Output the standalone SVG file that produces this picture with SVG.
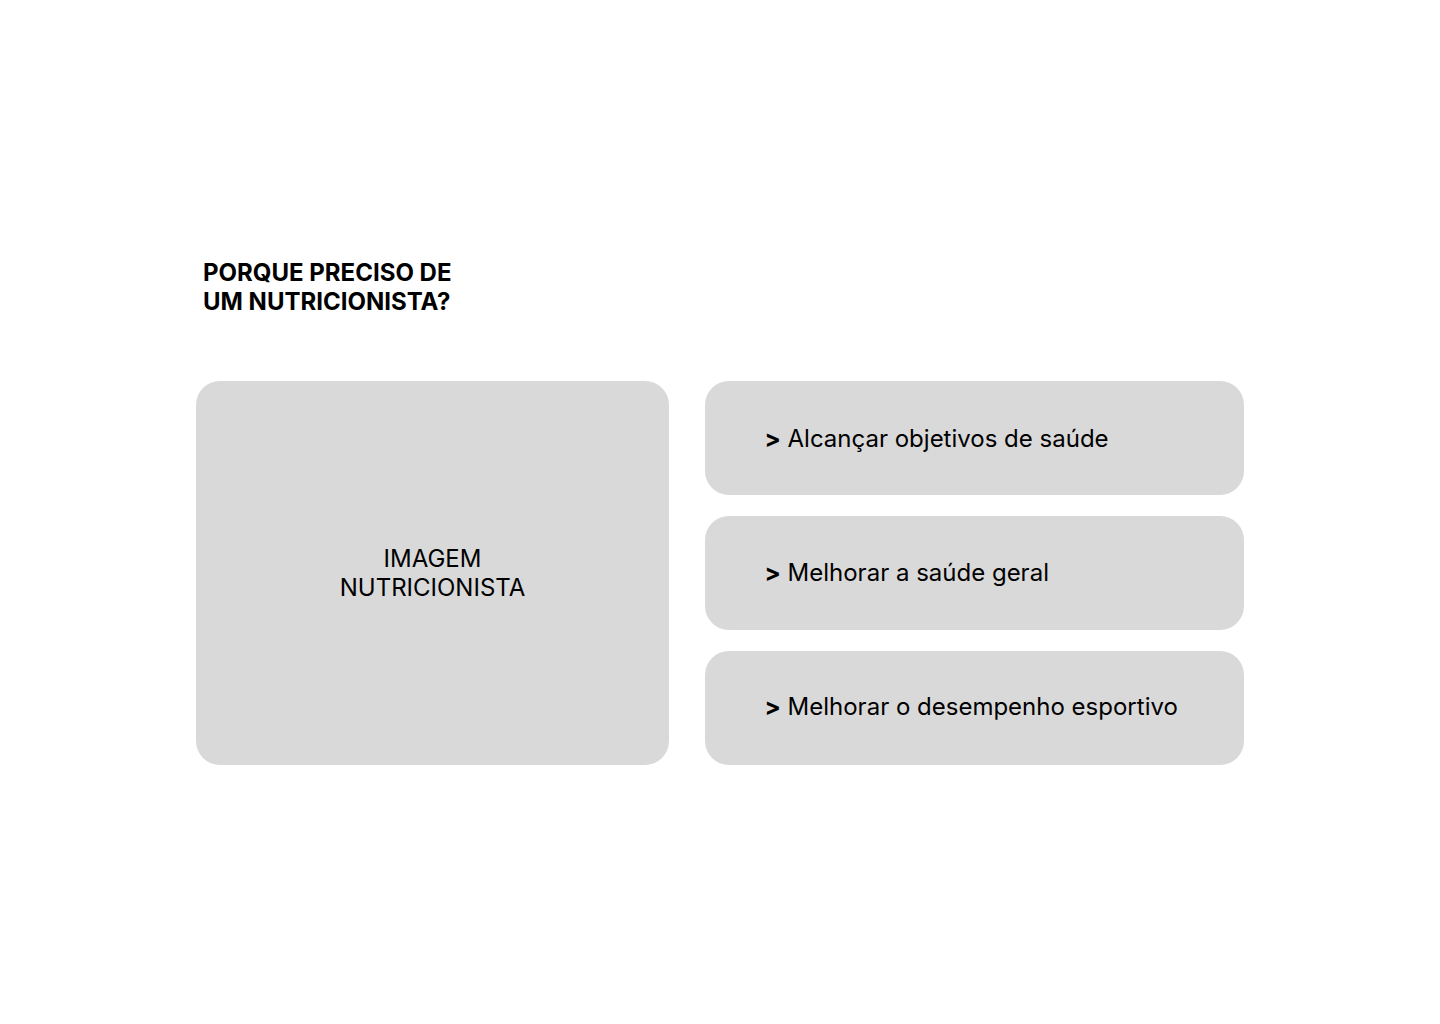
<svg xmlns="http://www.w3.org/2000/svg" width="1440" height="1024" viewBox="0 0 1440 1024">
<style>
.box{fill:#d9d9d9}
.t{font-family:Inter,"Noto Sans","Liberation Sans",sans-serif;fill:#000}
.title{font-size:24px;font-weight:700}
.item{font-size:24px}
.arr{font-weight:700}
</style>
<rect width="1440" height="1024" fill="#fff"/>
<g id="title">
<text class="t title" x="203" y="281">PORQUE PRECISO DE</text>
<text class="t title" x="203" y="310">UM NUTRICIONISTA?</text>
</g>
<g id="image">
<rect class="box" x="196" y="381" width="473" height="384" rx="24"/>
<text class="t item" x="432.5" y="567" text-anchor="middle">IMAGEM</text>
<text class="t item" x="432.5" y="596" text-anchor="middle">NUTRICIONISTA</text>
</g>
<g id="item1">
<rect class="box" x="705" y="381" width="539" height="114" rx="24"/>
<text class="t item" x="764.5" y="447"><tspan class="arr">&gt;</tspan> Alcançar objetivos de saúde</text>
</g>
<g id="item2">
<rect class="box" x="705" y="516" width="539" height="114" rx="24"/>
<text class="t item" x="764.5" y="581"><tspan class="arr">&gt;</tspan> Melhorar a saúde geral</text>
</g>
<g id="item3">
<rect class="box" x="705" y="651" width="539" height="114" rx="24"/>
<text class="t item" x="764.5" y="715"><tspan class="arr">&gt;</tspan> Melhorar o desempenho esportivo</text>
</g>
<g id="connectors"></g>
</svg>
